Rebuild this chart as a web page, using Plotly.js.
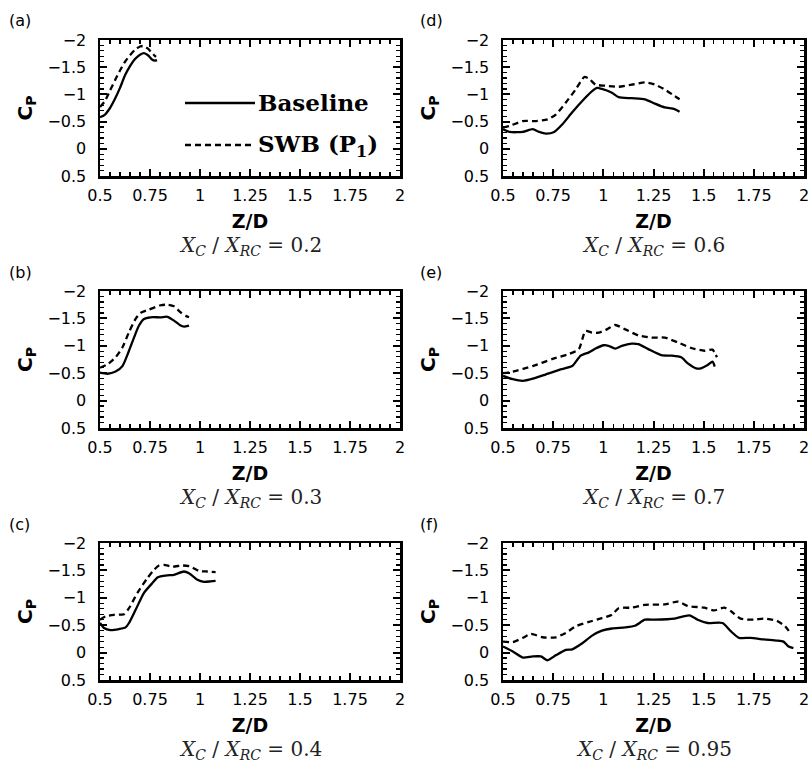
<!DOCTYPE html>
<html>
<head>
<meta charset="utf-8">
<script src="https://cdn.plot.ly/plotly-3.0.1.min.js"></script>
<style>html,body{margin:0;padding:0;background:#fff;}#chart{width:812px;height:766px;}</style>
</head>
<body>
<div id="chart"></div>
<script>
// ---- data (Z/D vs Cp) ----
const panelLabels = ["(a)", "(b)", "(c)", "(d)", "(e)", "(f)"];
const xcRatios = ["0.2", "0.3", "0.4", "0.6", "0.7", "0.95"];
const seriesNames = ["Baseline", "SWB (P<sub>1</sub>)"];
const xTickVals = [0.5, 0.75, 1, 1.25, 1.5, 1.75, 2];
const xTickText = ["0.5", "0.75", "1", "1.25", "1.5", "1.75", "2"];
const yTickVals = [-2, -1.5, -1, -0.5, 0, 0.5];
const yTickText = ["\u22122", "\u22121.5", "\u22121", "\u22120.5", "0", "0.5"];

// (a) Xc/Xrc = 0.2
const zA_base = [0.5, 0.525, 0.55, 0.575, 0.6, 0.625, 0.65, 0.675, 0.7, 0.72, 0.74, 0.76, 0.775, 0.785];
const cpA_base = [-0.58, -0.63, -0.75, -0.92, -1.12, -1.35, -1.52, -1.65, -1.73, -1.76, -1.72, -1.64, -1.62, -1.63];
const zA_swb = [0.5, 0.525, 0.55, 0.575, 0.6, 0.625, 0.65, 0.675, 0.7, 0.72, 0.74, 0.76, 0.78];
const cpA_swb = [-0.77, -0.88, -1.07, -1.26, -1.44, -1.6, -1.72, -1.82, -1.88, -1.89, -1.84, -1.76, -1.69];

// (b) Xc/Xrc = 0.3
const zB_base = [0.5, 0.537, 0.578, 0.612, 0.645, 0.67, 0.695, 0.72, 0.753, 0.803, 0.837, 0.87, 0.903, 0.92, 0.945];
const cpB_base = [-0.51, -0.49, -0.53, -0.63, -0.91, -1.15, -1.37, -1.49, -1.52, -1.52, -1.53, -1.46, -1.37, -1.35, -1.37];
const zB_swb = [0.5, 0.537, 0.578, 0.612, 0.645, 0.678, 0.703, 0.745, 0.803, 0.837, 0.87, 0.903, 0.928, 0.945];
const cpB_swb = [-0.6, -0.66, -0.79, -0.97, -1.25, -1.49, -1.6, -1.66, -1.74, -1.75, -1.72, -1.61, -1.55, -1.52];

// (c) Xc/Xrc = 0.4
const zC_base = [0.5, 0.52, 0.553, 0.595, 0.628, 0.645, 0.678, 0.72, 0.762, 0.787, 0.803, 0.837, 0.87, 0.92, 0.945, 0.987, 1.02, 1.053, 1.078];
const cpC_base = [-0.54, -0.45, -0.41, -0.43, -0.46, -0.54, -0.78, -1.09, -1.27, -1.37, -1.39, -1.41, -1.42, -1.48, -1.45, -1.33, -1.29, -1.3, -1.31];
const zC_swb = [0.5, 0.528, 0.57, 0.62, 0.645, 0.687, 0.737, 0.77, 0.795, 0.82, 0.862, 0.912, 0.953, 0.995, 1.037, 1.078];
const cpC_swb = [-0.6, -0.66, -0.69, -0.7, -0.81, -1.09, -1.36, -1.51, -1.59, -1.6, -1.57, -1.59, -1.57, -1.49, -1.48, -1.47];

// (d) Xc/Xrc = 0.6
const zD_base = [0.5, 0.533, 0.599, 0.648, 0.681, 0.714, 0.755, 0.796, 0.845, 0.903, 0.944, 0.969, 0.993, 1.043, 1.076, 1.141, 1.207, 1.257, 1.306, 1.355, 1.38];
const cpD_base = [-0.36, -0.31, -0.31, -0.36, -0.31, -0.28, -0.31, -0.45, -0.67, -0.91, -1.06, -1.12, -1.1, -1.03, -0.95, -0.93, -0.91, -0.83, -0.76, -0.73, -0.68];
const zD_swb = [0.5, 0.533, 0.599, 0.664, 0.722, 0.763, 0.813, 0.862, 0.905, 0.928, 0.961, 1.01, 1.076, 1.141, 1.207, 1.257, 1.306, 1.355, 1.38];
const cpD_swb = [-0.39, -0.42, -0.51, -0.51, -0.54, -0.63, -0.85, -1.09, -1.32, -1.29, -1.18, -1.16, -1.14, -1.18, -1.22, -1.18, -1.09, -0.97, -0.91];

// (e) Xc/Xrc = 0.7
const zE_base = [0.5, 0.549, 0.599, 0.648, 0.714, 0.78, 0.845, 0.887, 0.928, 0.961, 1.002, 1.026, 1.059, 1.092, 1.141, 1.174, 1.224, 1.289, 1.339, 1.388, 1.421, 1.462, 1.487, 1.52, 1.544, 1.555];
const cpE_base = [-0.45, -0.39, -0.36, -0.4, -0.48, -0.56, -0.63, -0.82, -0.88, -0.95, -1.01, -1.0, -0.95, -1.0, -1.04, -1.03, -0.94, -0.83, -0.82, -0.79, -0.68, -0.59, -0.59, -0.65, -0.71, -0.62];
const zE_swb = [0.5, 0.549, 0.648, 0.747, 0.829, 0.878, 0.911, 0.944, 0.977, 1.018, 1.059, 1.109, 1.174, 1.24, 1.306, 1.372, 1.438, 1.503, 1.544, 1.566];
const cpE_swb = [-0.5, -0.53, -0.63, -0.76, -0.85, -0.94, -1.27, -1.24, -1.24, -1.3, -1.38, -1.3, -1.19, -1.15, -1.15, -1.06, -0.96, -0.91, -0.93, -0.79];

// (f) Xc/Xrc = 0.95
const zF_base = [0.5, 0.549, 0.599, 0.648, 0.689, 0.722, 0.763, 0.813, 0.845, 0.895, 0.944, 0.993, 1.043, 1.109, 1.158, 1.207, 1.257, 1.355, 1.429, 1.47, 1.52, 1.594, 1.635, 1.676, 1.734, 1.8, 1.865, 1.898, 1.923, 1.947];
const cpF_base = [-0.11, -0.02, 0.09, 0.07, 0.07, 0.14, 0.05, -0.05, -0.06, -0.17, -0.31, -0.4, -0.44, -0.46, -0.49, -0.6, -0.6, -0.62, -0.68, -0.6, -0.54, -0.54, -0.39, -0.27, -0.27, -0.24, -0.22, -0.2, -0.11, -0.08];
const zF_swb = [0.5, 0.549, 0.599, 0.64, 0.697, 0.763, 0.813, 0.862, 0.928, 0.993, 1.043, 1.076, 1.141, 1.207, 1.306, 1.372, 1.421, 1.503, 1.553, 1.602, 1.635, 1.684, 1.75, 1.8, 1.865, 1.906, 1.931];
const cpF_swb = [-0.2, -0.19, -0.27, -0.34, -0.28, -0.28, -0.36, -0.48, -0.56, -0.63, -0.69, -0.81, -0.82, -0.87, -0.88, -0.93, -0.85, -0.82, -0.77, -0.82, -0.76, -0.62, -0.6, -0.62, -0.58, -0.48, -0.36];

const baseX = [zA_base, zB_base, zC_base, zD_base, zE_base, zF_base];
const baseY = [cpA_base, cpB_base, cpC_base, cpD_base, cpE_base, cpF_base];
const swbX = [zA_swb, zB_swb, zC_swb, zD_swb, zE_swb, zF_swb];
const swbY = [cpA_swb, cpB_swb, cpC_swb, cpD_swb, cpE_swb, cpF_swb];

// ---- layout geometry (pixels on the 812x766 canvas) ----
const W = 812, H = 766;
const colX = [[100, 400], [503, 804]];
const rowY = [[40, 176], [291, 428], [543, 680]];
const sansFont = "DejaVu Sans, Liberation Sans, Arial, sans-serif";
const serifFont = "DejaVu Serif, Liberation Serif, serif";

const traces = [];
const layout = {
  width: W, height: H,
  margin: {l: 0, r: 0, t: 0, b: 0},
  paper_bgcolor: "#ffffff", plot_bgcolor: "#ffffff",
  showlegend: false,
  font: {family: sansFont, color: "#000", size: 16},
  annotations: [], shapes: []
};

for (let i = 0; i < 6; i++) {
  const col = i < 3 ? 0 : 1;
  const row = i % 3;
  const n = i + 1;
  const xa = n === 1 ? "x" : "x" + n;
  const ya = n === 1 ? "y" : "y" + n;
  const xd = [colX[col][0] / W, colX[col][1] / W];
  const yd = [1 - rowY[row][1] / H, 1 - rowY[row][0] / H];

  traces.push({x: baseX[i], y: baseY[i], xaxis: xa, yaxis: ya, type: "scatter", mode: "lines",
    name: seriesNames[0], line: {color: "#000", width: 2.3, shape: "spline", smoothing: 0.6}});
  traces.push({x: swbX[i], y: swbY[i], xaxis: xa, yaxis: ya, type: "scatter", mode: "lines",
    name: seriesNames[1], line: {color: "#000", width: 2.3, dash: "6px,4px", shape: "spline", smoothing: 0.6}});

  const xKey = n === 1 ? "xaxis" : "xaxis" + n;
  const yKey = n === 1 ? "yaxis" : "yaxis" + n;
  layout[xKey] = {
    domain: xd, anchor: ya, range: [0.5, 2],
    tickmode: "array", tickvals: xTickVals, ticktext: xTickText,
    ticks: "inside", ticklen: 7, tickwidth: 2, tickcolor: "#000",
    minor: {ticks: "inside", dtick: 0.05, tick0: 0.5, ticklen: 4, tickwidth: 1.2, tickcolor: "#000"},
    showline: true, linewidth: 2.5, linecolor: "#000", mirror: "ticks",
    showgrid: false, zeroline: false,
    ticklabelstandoff: 3, ticklabeloverflow: "allow",
    tickfont: {family: sansFont, size: 16, color: "#000"},
    title: {text: "<b>Z/D</b>", font: {family: sansFont, size: 19, color: "#000"}, standoff: 11}
  };
  layout[yKey] = {
    domain: yd, anchor: xa, range: [0.5, -2],
    tickmode: "array", tickvals: yTickVals, ticktext: yTickText,
    ticks: "inside", ticklen: 7, tickwidth: 2, tickcolor: "#000",
    minor: {ticks: "inside", dtick: 0.1, tick0: 0, ticklen: 4, tickwidth: 1.2, tickcolor: "#000"},
    showline: true, linewidth: 2.5, linecolor: "#000", mirror: "ticks",
    showgrid: false, zeroline: false,
    ticklabelstandoff: 8,
    tickfont: {family: sansFont, size: 16, color: "#000"},
    title: {text: "<b>C<sub>P</sub></b>", font: {family: sansFont, size: 20, color: "#000"}, standoff: 10}
  };

  // panel letter
  layout.annotations.push({xref: "paper", yref: "paper",
    x: (col === 0 ? 7 : 418) / W, y: 1 - (rowY[row][0] - 19) / H,
    xanchor: "left", yanchor: "middle", showarrow: false,
    text: panelLabels[i], font: {family: sansFont, size: 16, color: "#000"}});
  // caption
  layout.annotations.push({xref: "paper", yref: "paper",
    x: ((colX[col][0] + colX[col][1]) / 2) / W, y: 1 - (rowY[row][1] + 70) / H,
    xanchor: "center", yanchor: "middle", showarrow: false,
    text: "<i>X</i><sub><i>C</i></sub> / <i>X</i><sub><i>RC</i></sub> = " + xcRatios[i],
    font: {family: serifFont, size: 20, color: "#222"}});
}

// legend drawn inside panel (a)
const legY = [103, 145];
const legDash = ["solid", "6px,4px"];
for (let k = 0; k < 2; k++) {
  layout.shapes.push({type: "line", xref: "paper", yref: "paper",
    x0: 185 / W, x1: 255 / W, y0: 1 - legY[k] / H, y1: 1 - legY[k] / H,
    line: {color: "#000", width: 2.3, dash: legDash[k]}});
  layout.annotations.push({xref: "paper", yref: "paper",
    x: 256 / W, y: 1 - legY[k] / H, xanchor: "left", yanchor: "middle", showarrow: false,
    text: "<b>" + seriesNames[k] + "</b>", font: {family: serifFont, size: 23, color: "#000"}});
}

Plotly.newPlot("chart", traces, layout, {staticPlot: true, displayModeBar: false});
</script>
</body>
</html>
